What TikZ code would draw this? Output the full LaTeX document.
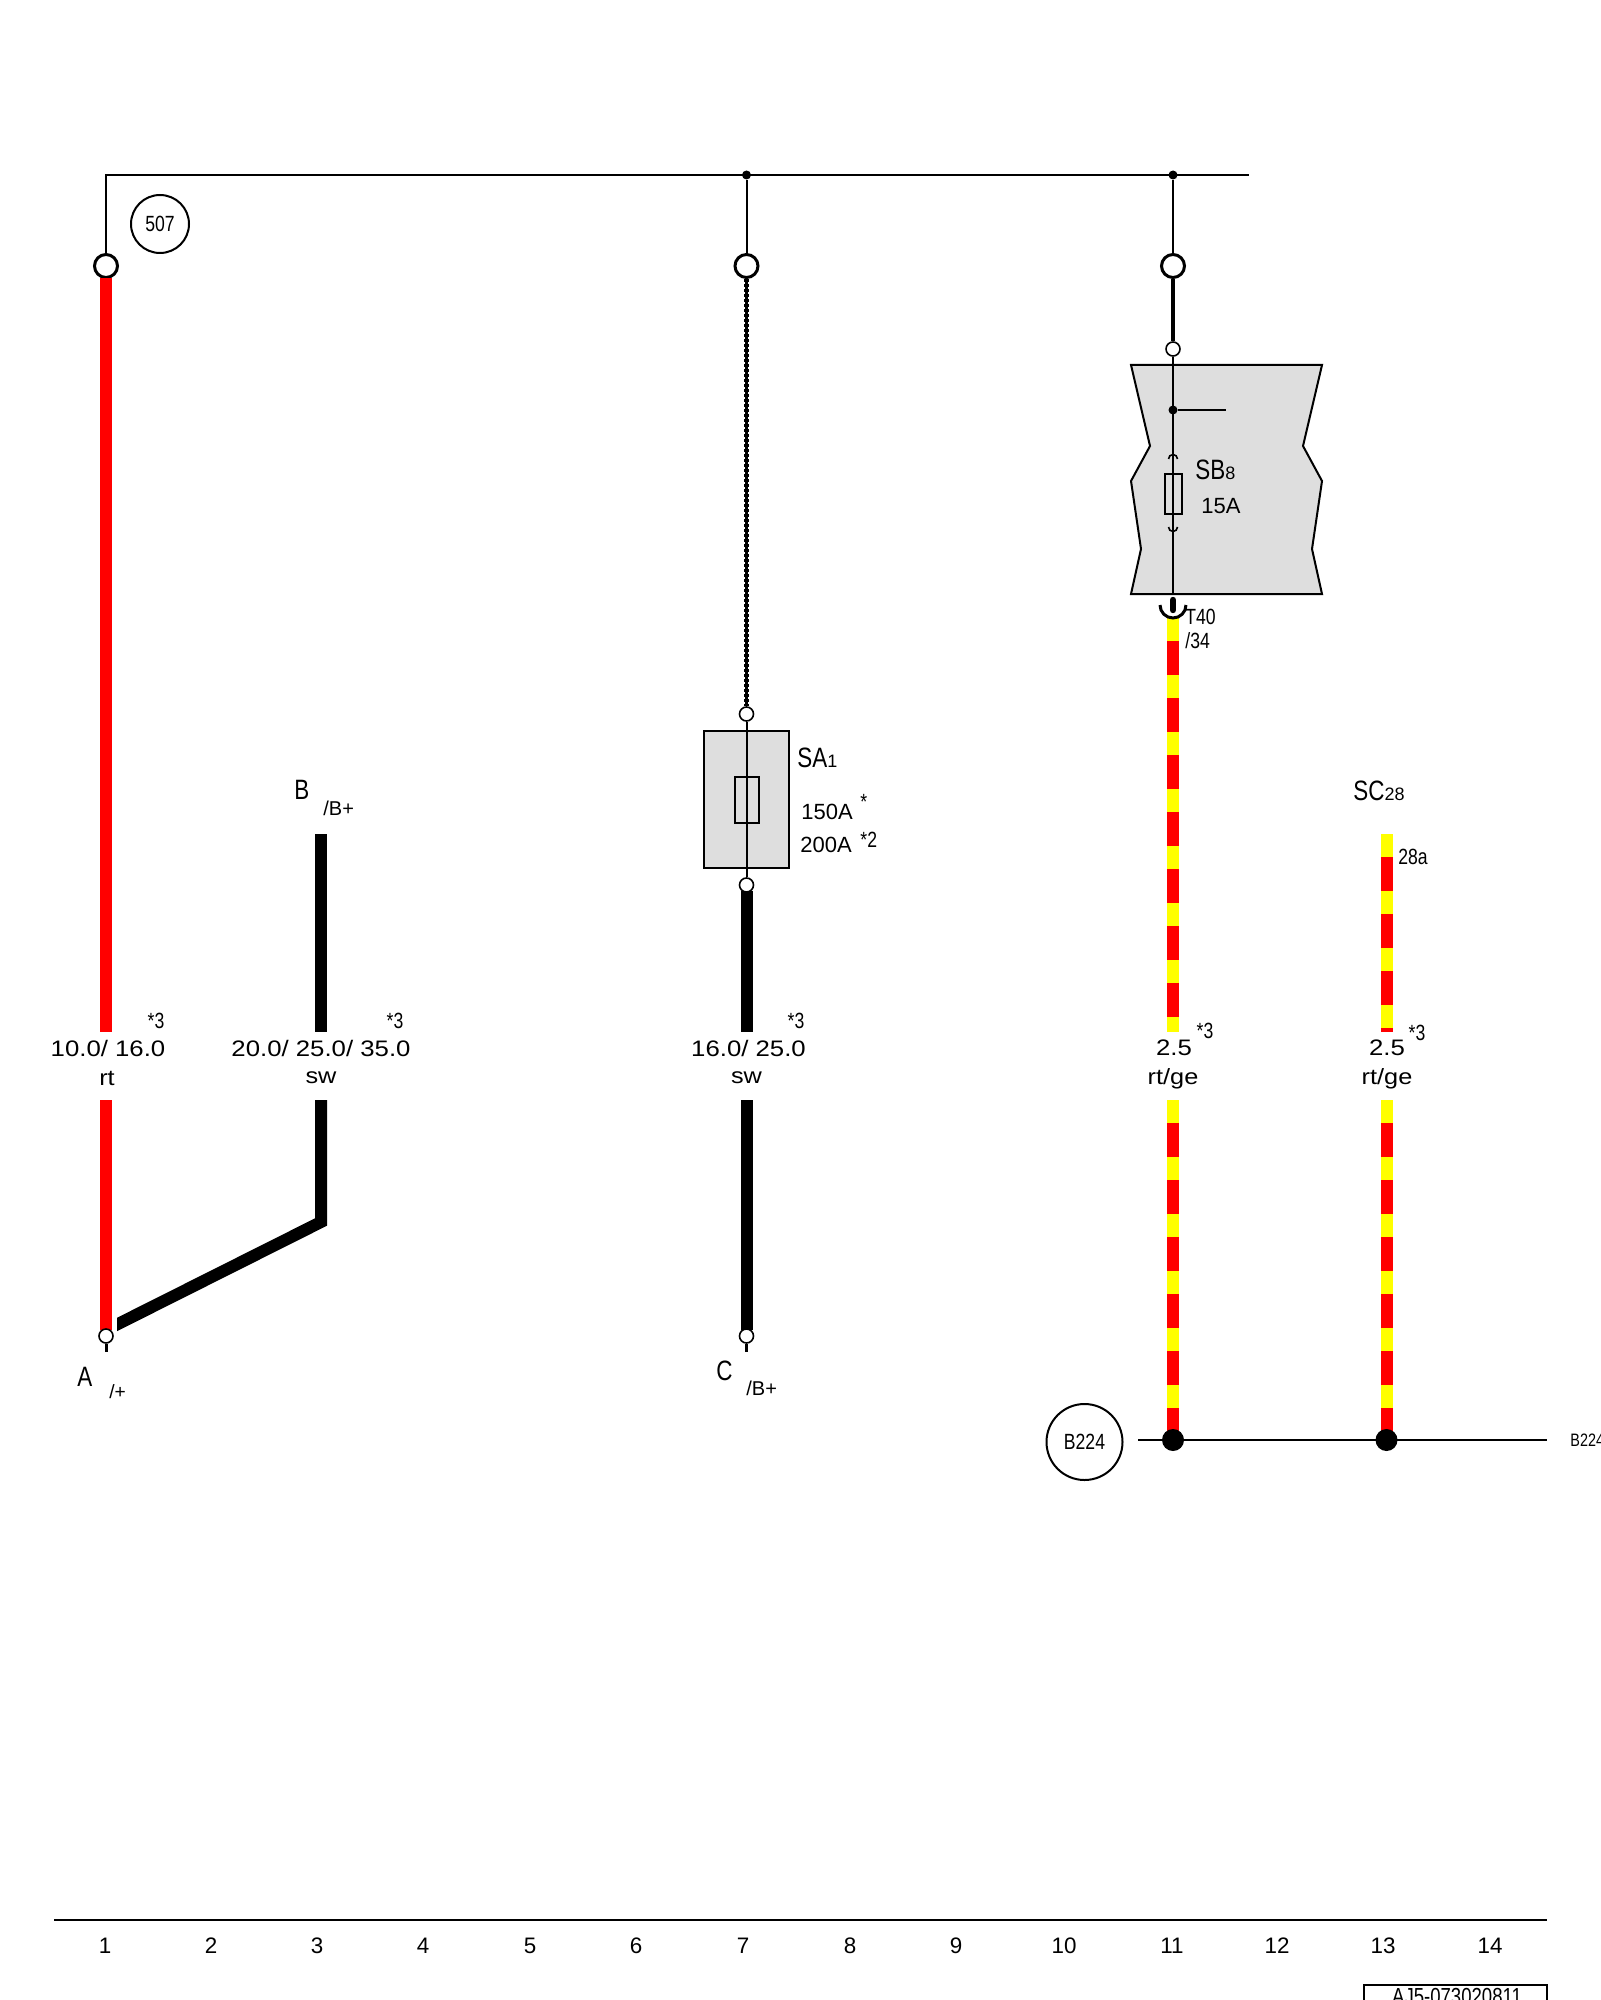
\documentclass[tikz,border=0pt]{standalone}
\usepackage{fontspec}
\setmainfont{Liberation Sans}
\newfontfamily\narrowfont[FakeStretch=0.8]{Liberation Sans}
\newfontfamily\widefont[FakeStretch=1.15]{Liberation Sans}
\definecolor{wirered}{RGB}{255,0,0}
\definecolor{wireyellow}{RGB}{255,255,0}
\definecolor{boxgray}{RGB}{222,222,222}
\tikzset{
  thinline/.style={draw=black, line width=1pt},
  redwire/.style={draw=wirered, line width=6pt},
  blackwire/.style={draw=black, line width=6pt, line join=miter},
  twistcore/.style={draw=black, line width=1.7pt},
  twistedge/.style={draw=black, line width=2.2pt, dash pattern=on 1.5pt off 1pt},
  yellowwire/.style={draw=wireyellow, line width=6pt},
  redstripe/.style={draw=wirered, line width=6pt, dash pattern=on 17pt off 11.5pt, dash phase=17pt},
  pinbig/.style={circle, draw=black, fill=white, line width=1.5pt, minimum size=11.5pt, inner sep=0pt},
  pinsmall/.style={circle, draw=black, fill=white, line width=0.8pt, minimum size=7pt, inner sep=0pt},
  joint/.style={circle, fill=black, minimum size=4.5pt, inner sep=0pt},
  grounddot/.style={circle, fill=black, minimum size=11pt, inner sep=0pt},
  refcircle/.style={circle, draw=black, line width=1pt, inner sep=0pt, font=\narrowfont\fontsize{11}{11}\selectfont},
  sizelabel/.style={inner sep=0pt, font=\widefont\fontsize{11.2}{12}\selectfont},
  colorlabel/.style={inner sep=0pt, font=\widefont\fontsize{11}{12}\selectfont},
  biglabel/.style={inner sep=0pt, anchor=west, font=\narrowfont\fontsize{14}{14}\selectfont},
  amplabel/.style={inner sep=0pt, anchor=west, font=\fontsize{11}{12}\selectfont},
  smalllabel/.style={inner sep=0pt, anchor=west, font=\narrowfont\fontsize{11}{12}\selectfont},
  gridnum/.style={inner sep=0pt, font=\fontsize{11.2}{12}\selectfont},
}
\newcommand{\smallsub}[1]{{\rmfamily\fontsize{9}{9}\selectfont #1}}
\begin{document}
\begin{tikzpicture}[x=0.5pt,y=-0.5pt]
\useasboundingbox (0,0) rectangle (1600,2000);
\clip (0,0) rectangle (1600,2000);
% top bus
\coordinate (busA) at (106,175);
\coordinate (busB) at (746.5,175);
\coordinate (busC) at (1173,175);
\coordinate (busEnd) at (1249,175);
\draw[thinline] (106,266) -- (busA) -- (busEnd);
\node[joint] (jointB) at (busB) {};
\node[joint] (jointC) at (busC) {};
\node[pinbig] (pinA) at (106,266) {};
\node[pinbig] (pinB) at (746.5,266) {};
\node[pinbig] (pinC) at (1173,266) {};
\draw[thinline] (jointB) -- (pinB);
\draw[thinline] (jointC) -- (pinC);
\node[refcircle, minimum size=29pt] (ref507) at (160,224) {507};
% column 1
\coordinate (redA) at (106,278);
\coordinate (redB) at (106,1032);
\coordinate (redC) at (106,1100);
\coordinate (redD) at (106,1330);
\coordinate (stubA) at (106,1352);
\draw[redwire] (redA) -- (redB);
\draw[redwire] (redC) -- (redD);
% column 3
\coordinate (swA) at (321,834);
\coordinate (swB) at (321,1032);
\coordinate (swC) at (321,1100);
\coordinate (swD) at (321,1222);
\coordinate (swE) at (110,1328);
\draw[blackwire] (swA) -- (swB);
\begin{scope}
\clip (117,1090) rectangle (340,1400);
\draw[blackwire] (swC) -- (swD) -- (swE);
\end{scope}
\node[pinsmall] (pinD) at (106,1336) {};
\draw[thinline, line width=1.5pt] (pinD) -- (stubA);
% column 7
\node[pinsmall] (pinE) at (746.5,714) {};
\coordinate (swF0) at (746.5,891);
\coordinate (swF) at (746.5,1032);
\coordinate (swG) at (746.5,1100);
\coordinate (swH) at (746.5,1330);
\coordinate (stubB) at (746.5,1352);
\draw[twistcore] (pinB) -- (pinE);
\draw[twistedge] (pinB) -- (pinE);
\draw[fill=boxgray, line width=1pt] (704,731) rectangle (789,868);
\draw[line width=0.8pt] (735,777) rectangle (759,823);
\node[pinsmall] (pinF) at (746.5,885) {};
\draw[thinline] (pinE) -- (pinF);
\draw[blackwire] (swF0) -- (swF);
\draw[blackwire] (swG) -- (swH);
\node[pinsmall] (pinG) at (746.5,1336) {};
\draw[thinline, line width=1.5pt] (pinG) -- (stubB);
% column 11
\node[pinsmall] (pinH) at (1173,349) {};
\draw[twistcore] (pinC) -- (pinH);
\draw[twistedge] (pinC) -- (pinH);
\draw[fill=boxgray, line width=1pt] (1131,365) -- (1322,365) -- (1303,446) -- (1322,481) -- (1312,549)
  -- (1322,594) -- (1131,594) -- (1141,549) -- (1131,481) -- (1150,446) -- cycle;
\coordinate (boxExit) at (1173,594);
\draw[thinline] (pinH) -- (boxExit);
\node[joint] (jointD) at (1173,410) {};
\coordinate (branch) at (1226,410);
\draw[thinline] (jointD) -- (branch);
\draw[line width=0.8pt] (1165,474) rectangle (1182,514);
\draw[line width=0.8pt] (1168.5,459) arc (-180:0:4.5);
\draw[line width=0.8pt] (1168.5,527) arc (180:0:4.5);
% striped wires
\coordinate (stripeA) at (1173,618);
\coordinate (stripeB) at (1173,1032);
\coordinate (stripeC) at (1173,1100);
\coordinate (stripeD) at (1173,1440);
\coordinate (stripeE) at (1386.5,834);
\coordinate (stripeF) at (1386.5,1032);
\coordinate (stripeG) at (1386.5,1100);
\coordinate (stripeH) at (1386.5,1440);
\foreach \from/\to in {stripeA/stripeB, stripeC/stripeD, stripeE/stripeF, stripeG/stripeH} {
  \draw[yellowwire] (\from) -- (\to);
  \draw[redstripe] (\from) -- (\to);
}
\coordinate (pillA) at (1173,600);
\coordinate (pillB) at (1173,610);
\draw[line width=3.2pt, line cap=round] (pillA) -- (pillB);
\draw[line width=1.5pt] (1160,605) arc (180:0:13);
% ground
\coordinate (gndA) at (1138,1440);
\coordinate (gndB) at (1547,1440);
\draw[thinline] (gndA) -- (gndB);
\node[grounddot] (dotA) at (stripeD) {};
\node[grounddot] (dotB) at (stripeH) {};
\node[refcircle, minimum size=38pt] (refB) at (1084.5,1442) {B224};
\node[smalllabel, font=\narrowfont\fontsize{9}{9}\selectfont] (gndText) at (1570,1440) {B224};
% labels
\node[biglabel] (lblA) at (77,1377) {A};
\node[smalllabel, font=\fontsize{9.6}{10}\selectfont] (lblAsub) at (109,1392) {/+};
\node[biglabel] (lblB) at (294,790) {B};
\node[smalllabel, font=\fontsize{10}{10}\selectfont] (lblBsub) at (323,808) {/B+};
\node[biglabel] (lblC) at (716,1371) {C};
\node[smalllabel, font=\fontsize{10}{10}\selectfont] (lblCsub) at (746,1388) {/B+};
\node[biglabel] (lblSA) at (797,758) {SA\smallsub{1}};
\node[amplabel] (amp150) at (801,812) {150A};
\node[amplabel] (amp200) at (800,845) {200A};
\node[smalllabel] (starA) at (860,802) {*};
\node[smalllabel] (starB) at (860,840) {*2};
\node[biglabel] (lblSB) at (1195,470) {SB\smallsub{8}};
\node[amplabel] (amp15) at (1201,506) {15A};
\node[smalllabel] (lblT) at (1185,617) {T40};
\node[smalllabel] (lblPin) at (1185,641) {/34};
\node[biglabel] (lblSC) at (1353,791) {SC\smallsub{28}};
\node[smalllabel] (lbl28) at (1398,857) {28a};
\node[sizelabel] (sizeA) at (108,1048) {10.0/ 16.0};
\node[colorlabel] (colA) at (107,1078) {rt};
\node[sizelabel] (sizeB) at (321,1048) {20.0/ 25.0/ 35.0};
\node[colorlabel] (colB) at (321,1078) {sw};
\node[sizelabel] (sizeC) at (748.5,1048) {16.0/ 25.0};
\node[colorlabel] (colC) at (746.5,1078) {sw};
\node[sizelabel] (sizeD) at (1174,1048) {2.5};
\node[colorlabel] (colD) at (1173,1079) {rt/ge};
\node[sizelabel] (sizeE) at (1387,1048) {2.5};
\node[colorlabel] (colE) at (1387,1079) {rt/ge};
\foreach \name/\xpos in {noteA/156, noteB/395, noteC/796} {
  \node[smalllabel, anchor=center] (\name) at (\xpos,1021) {*3};
}
\node[smalllabel, anchor=center] (noteD) at (1205,1031) {*3};
\node[smalllabel, anchor=center] (noteE) at (1417,1033) {*3};
% bottom rule and grid numbers
\coordinate (ruleA) at (54,1920);
\coordinate (ruleB) at (1547,1920);
\draw[thinline] (ruleA) -- (ruleB);
\foreach \n/\xpos in {1/105,2/211,3/317,4/423,5/530,6/636,7/743,8/850,9/956,10/1064,11/1172,12/1277,13/1383,14/1490} {
  \node[gridnum] (grid\n) at (\xpos,1946) {\n};
}
\draw[line width=1pt] (1364,2010) -- (1364,1985) -- (1547,1985) -- (1547,2010);
\node[inner sep=0pt, anchor=base, font=\narrowfont\fontsize{11.6}{12}\selectfont] (sheetNo) at (1457,2004) {AJ5-073020811};
\end{tikzpicture}
\end{document}
